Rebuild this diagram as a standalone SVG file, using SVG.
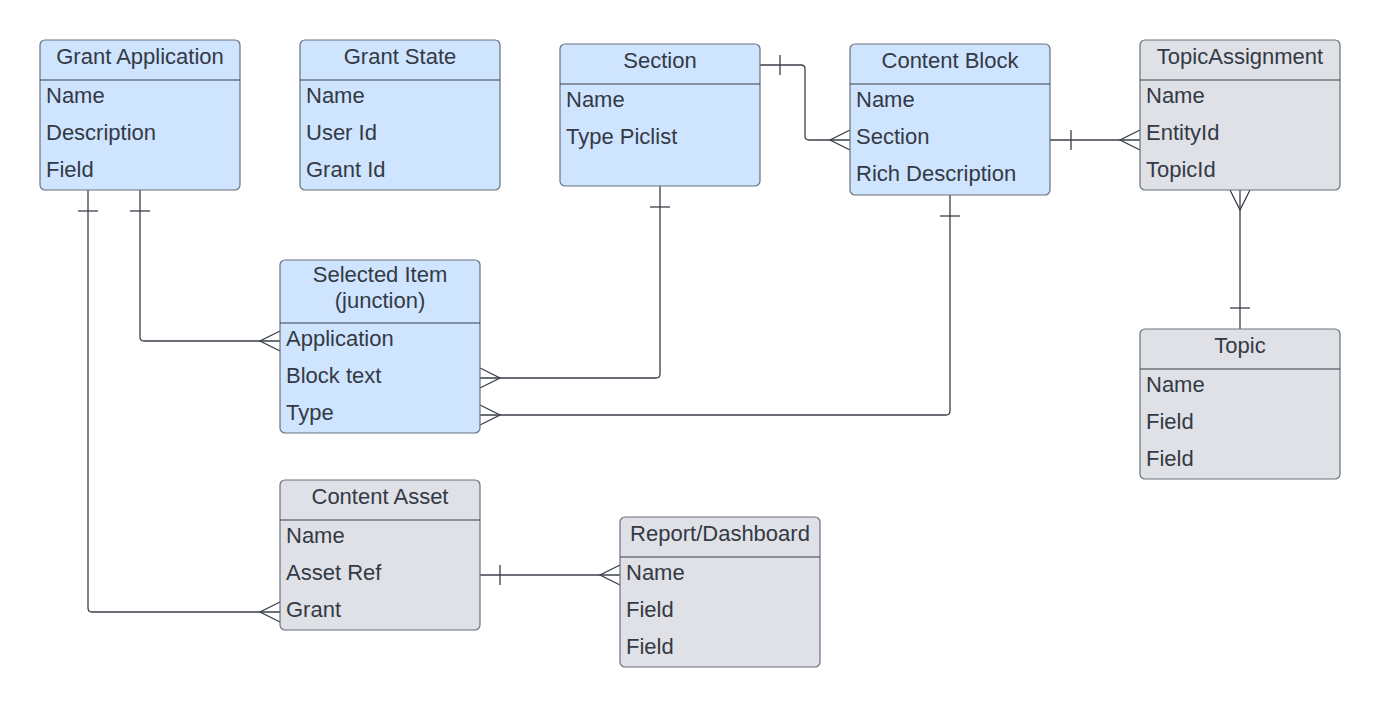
<svg xmlns="http://www.w3.org/2000/svg" width="1380" height="708" viewBox="0 0 1380 708">
<style>
.box{stroke:#6b717c;stroke-width:1.2}
.blue{fill:#cfe4ff}
.gray{fill:#dfe1e6}
.sep{stroke:#3a3f48;stroke-width:1.2}
.t{font-family:"Liberation Sans",Arial,sans-serif;font-size:22px;fill:#333a45}
.h{text-anchor:middle}
.c{fill:none;stroke:#3a3f48;stroke-width:1.3}
</style>
<rect width="1380" height="708" fill="#ffffff"/>
<g id="connectors">
<path class="c" d="M88 190 V608 Q88 612 92 612 H280"/>
<path class="c" d="M78 211 H98"/>
<path class="c" d="M280 602 L260 612 L280 622"/>
<path class="c" d="M140 190 V337 Q140 341 144 341 H280"/>
<path class="c" d="M130 211 H150"/>
<path class="c" d="M280 331 L260 341 L280 351"/>
<path class="c" d="M660 186 V374 Q660 378 656 378 H480"/>
<path class="c" d="M650 207 H670"/>
<path class="c" d="M480 368 L500 378 L480 388"/>
<path class="c" d="M950 195 V411 Q950 415 946 415 H480"/>
<path class="c" d="M940 216 H960"/>
<path class="c" d="M480 405 L500 415 L480 425"/>
<path class="c" d="M760 65 H801 Q805 65 805 69 V136 Q805 140 809 140 H850"/>
<path class="c" d="M780 55 V75"/>
<path class="c" d="M850 130 L830 140 L850 150"/>
<path class="c" d="M1050 140 H1140"/>
<path class="c" d="M1071 130 V150"/>
<path class="c" d="M1140 130 L1120 140 L1140 150"/>
<path class="c" d="M1240 190 V329"/>
<path class="c" d="M1230 190 L1240 210 L1250 190"/>
<path class="c" d="M1230 308 H1250"/>
<path class="c" d="M480 575 H620"/>
<path class="c" d="M500 565 V585"/>
<path class="c" d="M620 565 L600 575 L620 585"/>
</g>
<g id="grant-application">
<rect class="box blue" x="40" y="40" width="200" height="150" rx="5"/>
<line class="sep" x1="40" y1="80" x2="240" y2="80"/>
<text class="t h" x="140" y="64">Grant Application</text>
<text class="t" x="46" y="103">Name</text>
<text class="t" x="46" y="140">Description</text>
<text class="t" x="46" y="177">Field</text>
</g>
<g id="grant-state">
<rect class="box blue" x="300" y="40" width="200" height="150" rx="5"/>
<line class="sep" x1="300" y1="80" x2="500" y2="80"/>
<text class="t h" x="400" y="64">Grant State</text>
<text class="t" x="306" y="103">Name</text>
<text class="t" x="306" y="140">User Id</text>
<text class="t" x="306" y="177">Grant Id</text>
</g>
<g id="section">
<rect class="box blue" x="560" y="44" width="200" height="142" rx="5"/>
<line class="sep" x1="560" y1="84" x2="760" y2="84"/>
<text class="t h" x="660" y="68">Section</text>
<text class="t" x="566" y="107">Name</text>
<text class="t" x="566" y="144">Type Piclist</text>
</g>
<g id="content-block">
<rect class="box blue" x="850" y="44" width="200" height="151" rx="5"/>
<line class="sep" x1="850" y1="84" x2="1050" y2="84"/>
<text class="t h" x="950" y="68">Content Block</text>
<text class="t" x="856" y="107">Name</text>
<text class="t" x="856" y="144">Section</text>
<text class="t" x="856" y="181">Rich Description</text>
</g>
<g id="topic-assignment">
<rect class="box gray" x="1140" y="40" width="200" height="150" rx="5"/>
<line class="sep" x1="1140" y1="80" x2="1340" y2="80"/>
<text class="t h" x="1240" y="64">TopicAssignment</text>
<text class="t" x="1146" y="103">Name</text>
<text class="t" x="1146" y="140">EntityId</text>
<text class="t" x="1146" y="177">TopicId</text>
</g>
<g id="topic">
<rect class="box gray" x="1140" y="329" width="200" height="150" rx="5"/>
<line class="sep" x1="1140" y1="369" x2="1340" y2="369"/>
<text class="t h" x="1240" y="353">Topic</text>
<text class="t" x="1146" y="392">Name</text>
<text class="t" x="1146" y="429">Field</text>
<text class="t" x="1146" y="466">Field</text>
</g>
<g id="selected-item">
<rect class="box blue" x="280" y="260" width="200" height="173" rx="5"/>
<line class="sep" x1="280" y1="323" x2="480" y2="323"/>
<text class="t h" x="380" y="282">Selected Item</text>
<text class="t h" x="380" y="308">(junction)</text>
<text class="t" x="286" y="346">Application</text>
<text class="t" x="286" y="383">Block text</text>
<text class="t" x="286" y="420">Type</text>
</g>
<g id="content-asset">
<rect class="box gray" x="280" y="480" width="200" height="150" rx="5"/>
<line class="sep" x1="280" y1="520" x2="480" y2="520"/>
<text class="t h" x="380" y="504">Content Asset</text>
<text class="t" x="286" y="543">Name</text>
<text class="t" x="286" y="580">Asset Ref</text>
<text class="t" x="286" y="617">Grant</text>
</g>
<g id="report-dashboard">
<rect class="box gray" x="620" y="517" width="200" height="150" rx="5"/>
<line class="sep" x1="620" y1="557" x2="820" y2="557"/>
<text class="t h" x="720" y="541">Report/Dashboard</text>
<text class="t" x="626" y="580">Name</text>
<text class="t" x="626" y="617">Field</text>
<text class="t" x="626" y="654">Field</text>
</g>
</svg>
